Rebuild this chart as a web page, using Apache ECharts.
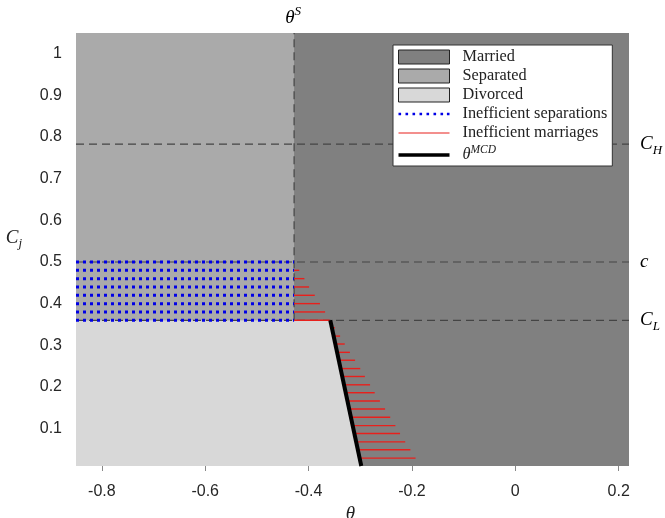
<!DOCTYPE html>
<html><head><meta charset="utf-8">
<script src="https://cdn.jsdelivr.net/npm/echarts@6/dist/echarts.min.js"></script>
<style>html,body{margin:0;padding:0;background:#fff}#c{width:665px;height:518px}</style>
</head><body><div id="c"></div>
<script>
// axis ranges and ticks
const xRange = [-0.85, 0.22];
const yRange = [0.01, 1.05];
const xTicks = [-0.8, -0.6, -0.4, -0.2, 0, 0.2];
const yTicks = [0.1, 0.2, 0.3, 0.4, 0.5, 0.6, 0.7, 0.8, 0.9, 1];

// thresholds
const thetaS = -0.428;
const C_H = 0.783;
const c_val = 0.5;
const C_L = 0.36;

// regions (polygons in data units)
const marriedPoly = [[-0.85, 0.01], [0.22, 0.01], [0.22, 1.05], [-0.85, 1.05]];
const separatedPoly = [[-0.85, 0.36], [-0.428, 0.36], [-0.428, 1.05], [-0.85, 1.05]];
const divorcedPoly = [[-0.85, 0.01], [-0.85, 0.36], [-0.358, 0.36], [-0.298, 0.01]];

// theta^MCD line
const mcdLine = [[-0.358, 0.36], [-0.298, 0.01]];

// inefficient separations: rows (y) spanning x from -0.85 to thetaS
const sepRowsY = [0.50, 0.48, 0.46, 0.44, 0.42, 0.40, 0.38, 0.36];

// inefficient marriages: segments [x0, x1, y]
const marrSegs = [
  [-0.428, -0.418, 0.48], [-0.428, -0.408, 0.46], [-0.428, -0.399, 0.44],
  [-0.428, -0.388, 0.42], [-0.428, -0.378, 0.40], [-0.428, -0.368, 0.38],
  [-0.428, -0.359, 0.36],
  [-0.355, -0.349, 0.342], [-0.352, -0.339, 0.322], [-0.348, -0.330, 0.303],
  [-0.345, -0.320, 0.283], [-0.342, -0.310, 0.264], [-0.338, -0.300, 0.244],
  [-0.335, -0.291, 0.225], [-0.332, -0.281, 0.205], [-0.329, -0.272, 0.186],
  [-0.325, -0.262, 0.166], [-0.322, -0.252, 0.147], [-0.319, -0.242, 0.127],
  [-0.315, -0.232, 0.107], [-0.312, -0.223, 0.088], [-0.309, -0.213, 0.068],
  [-0.305, -0.203, 0.049], [-0.302, -0.193, 0.029]
];

const COL_MARRIED = '#808080', COL_SEP = '#aaaaaa', COL_DIV = '#d8d8d8';
const COL_BLUE = '#0000e6', COL_RED = '#e8201c';
const SERIF = '"Liberation Serif", "DejaVu Serif", serif';
const SANS = '"Liberation Sans", Arial, sans-serif';

function polySeries(name, pts, color, z) {
  return {
    name, type: 'custom', z, silent: true,
    itemStyle: { color },
    data: [[pts[0][0], pts[0][1]]],
    renderItem: (p, api) => ({
      type: 'polygon',
      shape: { points: pts.map(q => api.coord(q)) },
      style: { fill: color, stroke: null }
    })
  };
}
function segSeries(name, segs, style, z) {
  return {
    name, type: 'custom', z, silent: true,
    dimensions: ['x0', 'y0', 'x1', 'y1'],
    encode: { x: [0, 2], y: [1, 3] },
    itemStyle: { color: style.stroke },
    data: segs,
    renderItem: (p, api) => {
      const a = api.coord([api.value(0), api.value(1)]);
      const b = api.coord([api.value(2), api.value(3)]);
      return { type: 'line', shape: { x1: a[0], y1: a[1], x2: b[0], y2: b[1] }, style: Object.assign({ fill: null }, style) };
    }
  };
}

const sepSegs = sepRowsY.map(y => [xRange[0], y, thetaS, y]);
const marrSegData = marrSegs.map(s => [s[0], s[2], s[1], s[2]]);
const refSegs = [
  [xRange[0], C_H, xRange[1], C_H],
  [xRange[0], c_val, xRange[1], c_val],
  [xRange[0], C_L, xRange[1], C_L],
  [thetaS, C_L, thetaS, yRange[1]]
];

const richMath = {
  i: { fontFamily: SERIF, fontStyle: 'italic', fontSize: 19, lineHeight: 26, verticalAlign: 'middle', color: '#222' },
  sub: { fontFamily: SERIF, fontStyle: 'italic', fontSize: 13, lineHeight: 26, verticalAlign: 'bottom', color: '#222' },
  sup: { fontFamily: SERIF, fontStyle: 'italic', fontSize: 13, lineHeight: 26, verticalAlign: 'top', color: '#222' }
};

const rightLabels = [
  { y: C_H, text: '{i|C}{sub|H}' },
  { y: c_val, text: '{i|c}' },
  { y: C_L, text: '{i|C}{sub|L}' }
];

const chart = echarts.init(document.getElementById('c'), null, { renderer: 'canvas' });
chart.setOption({
  animation: false,
  backgroundColor: '#fff',
  grid: { left: 76, top: 33, width: 553, height: 433, containLabel: false, outerBoundsMode: 'none' },
  xAxis: {
    type: 'value', min: xRange[0], max: xRange[1],
    name: 'θ', nameLocation: 'middle', nameGap: 38,
    nameTextStyle: { fontFamily: SERIF, fontStyle: 'italic', fontSize: 19, color: '#222', padding: [0, 4, 0, 0] },
    axisLine: { show: false },
    axisTick: { show: true, length: 5, customValues: xTicks, lineStyle: { color: '#888' } },
    axisLabel: { customValues: xTicks, fontFamily: SANS, fontSize: 16, color: '#262626', margin: 18,
      formatter: v => String(Math.round(v * 10) / 10) },
    splitLine: { show: false }
  },
  yAxis: {
    type: 'value', min: yRange[0], max: yRange[1],
    name: '{i|C}{sub|j}', nameLocation: 'middle', nameGap: 54, nameRotate: 0,
    nameTextStyle: { rich: richMath, padding: [0, 0, 24, 0] },
    axisLine: { show: false },
    axisTick: { show: true, length: 5, customValues: yTicks, lineStyle: { color: '#888' } },
    axisLabel: { customValues: yTicks, fontFamily: SANS, fontSize: 16, color: '#262626', margin: 14,
      formatter: v => String(Math.round(v * 10) / 10) },
    splitLine: { show: false }
  },
  legend: {
    orient: 'vertical', left: 393, top: 45, z: 20,
    padding: [4, 5, 3, 5], itemGap: 3, itemWidth: 51, itemHeight: 14,
    backgroundColor: '#fff', borderColor: '#333', borderWidth: 1, borderRadius: 0,
    selectedMode: false,
    textStyle: { fontFamily: SERIF, fontSize: 16.3, lineHeight: 14, color: '#222', padding: [0, 0, 0, 8],
      rich: { t: { fontFamily: SERIF, fontStyle: 'italic', fontSize: 16.3, lineHeight: 14, verticalAlign: 'middle', color: '#222' },
              s: { fontFamily: SERIF, fontStyle: 'italic', fontSize: 11.5, lineHeight: 14, verticalAlign: 'top', color: '#222', padding: [-4, 0, 0, 0] } } },
    formatter: n => n === 'thetaMCD' ? '{t|θ}{s|MCD}' : n,
    data: [
      { name: 'Married', icon: 'rect', itemStyle: { color: COL_MARRIED, borderColor: '#222', borderWidth: 1 } },
      { name: 'Separated', icon: 'rect', itemStyle: { color: COL_SEP, borderColor: '#222', borderWidth: 1 } },
      { name: 'Divorced', icon: 'rect', itemStyle: { color: COL_DIV, borderColor: '#222', borderWidth: 1 } },
      { name: 'Inefficient separations', icon: 'path://M0,0h2.6v2.6h-2.6z M7,0h2.6v2.6h-2.6z M14,0h2.6v2.6h-2.6z M21,0h2.6v2.6h-2.6z M28,0h2.6v2.6h-2.6z M35,0h2.6v2.6h-2.6z M42,0h2.6v2.6h-2.6z M48.4,0h2.6v2.6h-2.6z', itemStyle: { color: COL_BLUE, borderWidth: 0 } },
      { name: 'Inefficient marriages', icon: 'path://M0,0h51v1h-51z', itemStyle: { color: COL_RED, borderWidth: 0 } },
      { name: 'thetaMCD', icon: 'path://M0,0h51v3.5h-51z', itemStyle: { color: '#000', borderWidth: 0 } }
    ]
  },
  series: [
    polySeries('Married', marriedPoly, COL_MARRIED, 1),
    polySeries('Separated', separatedPoly, COL_SEP, 2),
    polySeries('Divorced', divorcedPoly, COL_DIV, 3),
    segSeries('refLines', refSegs, { stroke: '#444', lineWidth: 1.2, lineDash: [8, 5] }, 4),
    segSeries('Inefficient separations', sepSegs, { stroke: COL_BLUE, lineWidth: 3, lineDash: [3, 4] }, 5),
    segSeries('Inefficient marriages', marrSegData, { stroke: COL_RED, lineWidth: 1.4 }, 6),
    segSeries('thetaMCD', [[mcdLine[0][0], mcdLine[0][1], mcdLine[1][0], mcdLine[1][1]]], { stroke: '#000', lineWidth: 4 }, 7),
    {
      name: 'labels', type: 'custom', z: 8, silent: true,
      data: rightLabels.map(l => [xRange[1], l.y]),
      renderItem: (p, api) => {
        const pt = api.coord([api.value(0), api.value(1)]);
        return { type: 'text', x: pt[0] + 11, y: pt[1], style: { text: rightLabels[p.dataIndex].text, rich: richMath, verticalAlign: 'middle', align: 'left' } };
      }
    },
    {
      name: 'thetaSLabel', type: 'custom', z: 8, silent: true,
      data: [[thetaS, yRange[1]]],
      renderItem: (p, api) => {
        const pt = api.coord([api.value(0), api.value(1)]);
        return { type: 'text', x: pt[0] - 1, y: pt[1] - 15, style: { text: '{i|θ}{sup|S}', rich: richMath, verticalAlign: 'middle', align: 'center' } };
      }
    }
  ]
});
</script></body></html>
